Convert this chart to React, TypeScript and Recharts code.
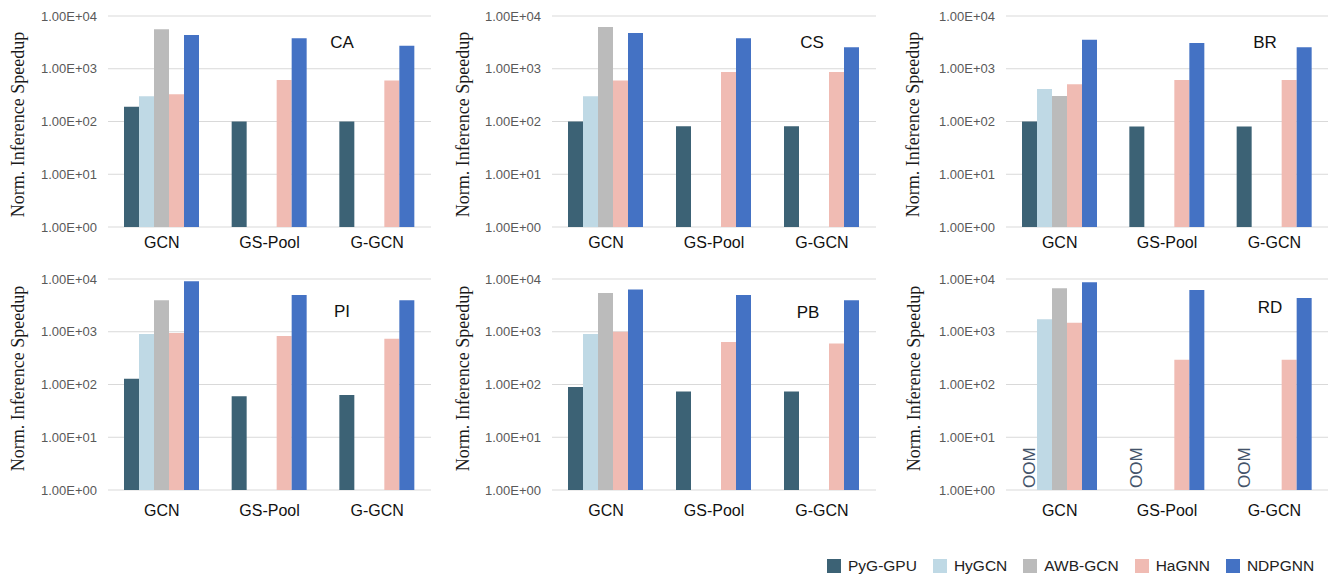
import React from 'react'
import { BarChart, Bar, XAxis, YAxis, CartesianGrid, Legend } from 'recharts'

// categories, datasets and series
const models = ['GCN', 'GS-Pool', 'G-GCN']
const datasets = ['CA', 'CS', 'BR', 'PI', 'PB', 'RD']
const seriesNames = ['PyG-GPU', 'HyGCN', 'AWB-GCN', 'HaGNN', 'NDPGNN']
const yTicks = [1, 10, 100, 1000, 10000]

// normalized inference speedup, one row per dataset (GCN, GS-Pool, G-GCN); null = no bar
const pygGpu = [
  [190, 100, 100],
  [100, 81, 81],
  [100, 80, 80],
  [129, 60, 63],
  [90, 74, 74],
  [null, null, null], // OOM
]
const hyGcn = [
  [300, null, null],
  [300, null, null],
  [415, null, null],
  [910, null, null],
  [910, null, null],
  [1730, null, null],
]
const awbGcn = [
  [5600, null, null],
  [6200, null, null],
  [305, null, null],
  [3960, null, null],
  [5400, null, null],
  [6700, null, null],
]
const haGnn = [
  [330, 610, 600],
  [600, 870, 870],
  [510, 610, 610],
  [950, 830, 740],
  [1000, 640, 600],
  [1480, 294, 294],
]
const ndpGnn = [
  [4370, 3800, 2740],
  [4750, 3800, 2550],
  [3560, 3080, 2550],
  [9100, 4970, 3960],
  [6350, 4970, 3960],
  [8700, 6200, 4350],
]

const colors = ['#3c6275', '#bfd9e5', '#bbbbbb', '#f0bbb3', '#4472c4']
const keys = ['pyg', 'hy', 'awb', 'ha', 'ndp']

const SANS = '"Liberation Sans", Arial, sans-serif'
const SERIF = '"Liberation Serif", "Times New Roman", serif'
const CAT_GAP = 16
const X_AXIS_H = 33

const fmtSci = (v: number) => {
  const e = Math.round(Math.log10(v))
  const m = v / Math.pow(10, e)
  return `${m.toFixed(2)}E+${String(e).padStart(2, '0')}`
}

// panel placement (page coords)
const panels = [
  { left: 0, top: 0, width: 440, yw: 108, right: 9, mt: 16, h: 260, tm: 4, titleX: 18, titleDy: 3, tag: [342, 43] },
  { left: 444, top: 0, width: 440, yw: 108, right: 8, mt: 16, h: 260, tm: 4, titleX: 19, titleDy: 3, tag: [812, 43] },
  { left: 888, top: 0, width: 444, yw: 118, right: 4, mt: 16, h: 260, tm: 4, titleX: 25, titleDy: 3, tag: [1265, 43] },
  { left: 0, top: 262, width: 440, yw: 108, right: 9, mt: 17, h: 261, tm: 9, titleX: 18, titleDy: -6, tag: [342, 312] },
  { left: 444, top: 262, width: 440, yw: 108, right: 8, mt: 17, h: 261, tm: 9, titleX: 19, titleDy: -6, tag: [808, 313] },
  { left: 888, top: 262, width: 444, yw: 118, right: 4, mt: 17, h: 261, tm: 9, titleX: 26, titleDy: -6, tag: [1270, 308] },
]

const buildRows = (d: number) =>
  models.map((name, i) => ({
    name,
    pyg: pygGpu[d][i],
    hy: hyGcn[d][i],
    awb: awbGcn[d][i],
    ha: haGnn[d][i],
    ndp: ndpGnn[d][i],
  }))

const LegendContent = (props: any) => {
  const items = [...(props.payload || [])].sort(
    (a: any, b: any) => seriesNames.indexOf(a.value) - seriesNames.indexOf(b.value),
  )
  return (
    <div style={{ display: 'flex', alignItems: 'center', fontFamily: SANS, fontSize: 15.5, color: '#222', whiteSpace: 'nowrap' }}>
      {items.map((e: any, i: number) => (
        <div key={i} style={{ display: 'flex', alignItems: 'center', marginRight: i < items.length - 1 ? 16 : 0 }}>
          <span style={{ display: 'inline-block', width: 14, height: 14, background: e.color, marginRight: 7 }} />
          <span>{e.value}</span>
        </div>
      ))}
    </div>
  )
}

function Panel({ d }: { d: number }) {
  const p = panels[d]
  const rows = buildRows(d)
  const plotH = p.h - p.mt - X_AXIS_H
  const plotBottom = p.h - X_AXIS_H
  const band = (p.width - p.yw - p.right) / models.length
  const barW = (band - 2 * CAT_GAP) / keys.length

  // category label, plus "OOM" in the PyG-GPU slot when that value is missing
  const CategoryTick = (tp: any) => {
    const { x, y, payload } = tp
    const idx = payload.index
    const oom = pygGpu[d][idx] == null
    const ox = x - 2 * barW
    const oy = plotBottom - 2
    return (
      <g>
        <text x={x} y={y} dy="0.71em" textAnchor="middle" fill="#111" fontSize={16} fontFamily={SANS}>
          {payload.value}
        </text>
        {oom && (
          <text
            x={ox}
            y={oy}
            transform={`rotate(-90, ${ox}, ${oy})`}
            textAnchor="start"
            dominantBaseline="central"
            fill="#44546a"
            fontSize={17}
            fontFamily={SANS}
          >
            OOM
          </text>
        )}
      </g>
    )
  }

  return (
    <div style={{ position: 'absolute', left: p.left, top: p.top }}>
      <BarChart
        width={p.width}
        height={p.h}
        data={rows}
        margin={{ top: p.mt, right: p.right, bottom: 0, left: 0 }}
        barCategoryGap={CAT_GAP}
        barGap={0}
      >
        <CartesianGrid vertical={false} stroke="#d9d9d9" />
        <XAxis
          dataKey="name"
          axisLine={false}
          tickLine={false}
          interval={0}
          height={X_AXIS_H}
          tickMargin={p.tm}
          tick={<CategoryTick />}
        />
        <YAxis
          scale="log"
          domain={[1, 10000]}
          ticks={yTicks}
          allowDataOverflow
          axisLine={false}
          tickLine={false}
          width={p.yw}
          tickMargin={5}
          tickFormatter={fmtSci}
          tick={{ fontSize: 13, fill: '#595959', fontFamily: SANS }}
          label={(lp: any) => {
            const vb = lp.viewBox || { x: 0, y: p.mt, height: plotH }
            const cx = vb.x + p.titleX
            const cy = vb.y + vb.height / 2 + p.titleDy
            return (
              <text
                x={cx}
                y={cy}
                transform={`rotate(-90, ${cx}, ${cy})`}
                textAnchor="middle"
                dominantBaseline="central"
                fill="#1a1a1a"
                fontSize={18}
                fontFamily={SERIF}
              >
                Norm. Inference Speedup
              </text>
            )
          }}
        />
        {keys.map((k, i) => (
          <Bar key={k} dataKey={k} name={seriesNames[i]} fill={colors[i]} isAnimationActive={false} />
        ))}
        {d === datasets.length - 1 && (
          <Legend
            layout="horizontal"
            align="center"
            verticalAlign="middle"
            content={LegendContent}
            wrapperStyle={{ left: -61, top: 295, width: 'auto', height: 'auto' }}
          />
        )}
      </BarChart>
      <div
        style={{
          position: 'absolute',
          left: p.tag[0] - p.left,
          top: p.tag[1] - p.top,
          transform: 'translate(-50%, -50%)',
          fontFamily: SANS,
          fontSize: 17,
          color: '#111',
        }}
      >
        {datasets[d]}
      </div>
    </div>
  )
}

export default function App() {
  return (
    <div style={{ position: 'absolute', left: 0, top: 0, width: 1332, height: 574, background: '#fff' }}>
      {datasets.map((_, d) => (
        <Panel key={d} d={d} />
      ))}
    </div>
  )
}
